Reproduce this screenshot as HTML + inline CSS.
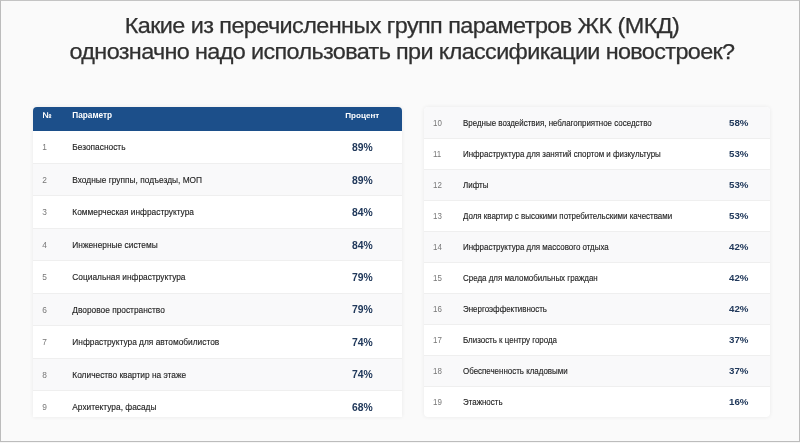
<!DOCTYPE html>
<html lang="ru">
<head>
<meta charset="utf-8">
<title>Параметры ЖК (МКД)</title>
<style>
*{box-sizing:border-box;margin:0;padding:0}
html,body{width:800px;height:443px;overflow:hidden;background:#fafafa}
body{position:relative;font-family:"Liberation Sans",sans-serif;color:#333}
.frame{position:absolute;left:0;top:0;width:800px;height:442px;border:1px solid #bcbcbc;border-top-color:#c4c4c4;pointer-events:none}
.edge{position:absolute;left:0;top:442px;width:800px;height:1px;background:#f6f6f6}
h1{position:absolute;left:2px;top:13.2px;width:800px;text-align:center;font-weight:400;font-size:21.7px;letter-spacing:-0.54px;line-height:25.7px;color:#303030;-webkit-text-stroke:0.25px #303030;transform:scaleX(1.08);transform-origin:50% 50%}
.l2{letter-spacing:-0.6px}
.tbl{position:absolute;background:#fff;border-radius:4px;overflow:hidden;box-shadow:0 0 4px rgba(0,0,0,.07)}
#t1{left:33.3px;top:107px;width:368.8px;height:309.7px}
#t2{left:424px;top:107.4px;width:346px;height:310px}
.hd{height:23.5px;background:#1c4f8a;color:#fff;font-weight:700;position:relative}
.row{position:relative;color:#222}
.row::before{content:"";position:absolute;left:0;right:0;top:0;height:1px;background:#efefef}
#t1 .row{height:32.46px;font-size:8.36px}
#t1 .hd{font-size:8.25px}
#t2 .row{height:31px;font-size:7.95px}
#t2 .row:first-child::before{display:none}
#t1 .hd + .row::before{display:none}
.row.g{background:#f9f9fa}
.n,.p,.v{position:absolute;top:0;height:100%;display:flex;align-items:center;white-space:nowrap}
#t1 .row .n,#t1 .row .p{top:0.9px}
#t2 .row .n,#t2 .row .p{top:0.5px}
#t2 .row .v{top:0px}
#t1 .row .v{top:1.0px}
#t1 .hd + .row .v{top:0.4px}
#t1{border-radius:4px 4px 0 0}
.n{left:9px;color:#777}
.p{left:39px;-webkit-text-stroke:0.12px #222}
.v{font-weight:700;color:#21395b}
.row .v{transform:scaleX(1.035);transform-origin:0 50%}
.row .n,.row .p{transform:scaleY(1.1);transform-origin:0 50%}
#t1 .v{left:318.5px;font-size:10px}
#t2 .v{left:304.8px;font-size:9.4px}
.hd .n{color:#fff;top:-2.8px}
.hd .p{top:-2.8px;-webkit-text-stroke:0}
#t1 .hd .v{color:#fff;font-size:8.1px;transform:none;left:312px;top:-2.8px}
</style>
</head>
<body>
<h1>Какие из перечисленных групп параметров ЖК (МКД)<br><span class="l2">однозначно надо использовать при классификации новостроек?</span></h1>
<div class="tbl" id="t1">
<div class="hd"><span class="n">№</span><span class="p">Параметр</span><span class="v">Процент</span></div>
<div class="row"><span class="n">1</span><span class="p">Безопасность</span><span class="v">89%</span></div>
<div class="row g"><span class="n">2</span><span class="p">Входные группы, подъезды, МОП</span><span class="v">89%</span></div>
<div class="row"><span class="n">3</span><span class="p">Коммерческая инфраструктура</span><span class="v">84%</span></div>
<div class="row g"><span class="n">4</span><span class="p">Инженерные системы</span><span class="v">84%</span></div>
<div class="row"><span class="n">5</span><span class="p">Социальная инфраструктура</span><span class="v">79%</span></div>
<div class="row g"><span class="n">6</span><span class="p">Дворовое пространство</span><span class="v">79%</span></div>
<div class="row"><span class="n">7</span><span class="p">Инфраструктура для автомобилистов</span><span class="v">74%</span></div>
<div class="row g"><span class="n">8</span><span class="p">Количество квартир на этаже</span><span class="v">74%</span></div>
<div class="row"><span class="n">9</span><span class="p">Архитектура, фасады</span><span class="v">68%</span></div>
</div>
<div class="tbl" id="t2">
<div class="row g"><span class="n">10</span><span class="p">Вредные воздействия, неблагоприятное соседство</span><span class="v">58%</span></div>
<div class="row"><span class="n">11</span><span class="p">Инфраструктура для занятий спортом и физкультуры</span><span class="v">53%</span></div>
<div class="row g"><span class="n">12</span><span class="p">Лифты</span><span class="v">53%</span></div>
<div class="row"><span class="n">13</span><span class="p">Доля квартир с высокими потребительскими качествами</span><span class="v">53%</span></div>
<div class="row g"><span class="n">14</span><span class="p">Инфраструктура для массового отдыха</span><span class="v">42%</span></div>
<div class="row"><span class="n">15</span><span class="p">Среда для маломобильных граждан</span><span class="v">42%</span></div>
<div class="row g"><span class="n">16</span><span class="p">Энергоэффективность</span><span class="v">42%</span></div>
<div class="row"><span class="n">17</span><span class="p">Близость к центру города</span><span class="v">37%</span></div>
<div class="row g"><span class="n">18</span><span class="p">Обеспеченность кладовыми</span><span class="v">37%</span></div>
<div class="row"><span class="n">19</span><span class="p">Этажность</span><span class="v">16%</span></div>
</div>
<div class="frame"></div><div class="edge"></div>
</body>
</html>
